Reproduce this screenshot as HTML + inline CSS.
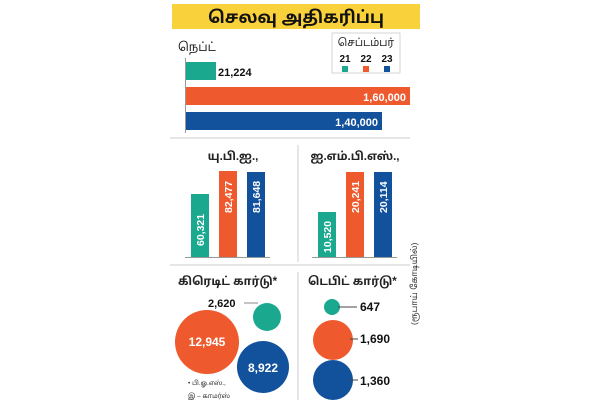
<!DOCTYPE html>
<html><head><meta charset="utf-8"><style>
html,body{margin:0;padding:0;background:#fff;}
svg{display:block;font-family:"Liberation Sans","Noto Sans Tamil","DejaVu Sans",sans-serif;}
</style></head><body>
<svg width="600" height="413" viewBox="0 0 600 413" xmlns="http://www.w3.org/2000/svg">
<rect x="172" y="4" width="248" height="25" fill="#f9d13b"/>
<text x="296" y="23" font-size="17" font-weight="bold" text-anchor="middle" fill="#111">செலவு அதிகரிப்பு</text>
<text x="178" y="51" font-size="12" fill="#222">நெப்ட்</text>
<rect x="332" y="33" width="68" height="40" fill="#fff" stroke="#ccc" stroke-width="0.8"/>
<text x="366" y="46" font-size="10.5" text-anchor="middle" fill="#222">செப்டம்பர்</text>
<g font-size="10" font-weight="bold" fill="#111" text-anchor="middle">
<text x="345" y="62">21</text><text x="366" y="62">22</text><text x="387" y="62">23</text></g>
<rect x="342" y="66" width="6" height="6" fill="#1aa88f"/>
<rect x="363" y="66" width="6" height="6" fill="#ee5a2e"/>
<rect x="384" y="66" width="6" height="6" fill="#12519c"/>
<line x1="185.5" y1="58" x2="185.5" y2="133" stroke="#999" stroke-width="1"/>
<rect x="186" y="62" width="30" height="18" fill="#1aa88f"/>
<text x="218" y="76" font-size="11" font-weight="bold" fill="#111">21,224</text>
<rect x="186" y="87" width="224" height="18" fill="#ee5a2e"/>
<text x="406" y="101" font-size="11" font-weight="bold" fill="#fff" text-anchor="end">1,60,000</text>
<rect x="186" y="112" width="196" height="18" fill="#12519c"/>
<text x="378" y="126" font-size="11" font-weight="bold" fill="#fff" text-anchor="end">1,40,000</text>
<line x1="170" y1="138" x2="410" y2="138" stroke="#ddd" stroke-width="1.5"/>
<line x1="298" y1="145" x2="298" y2="262" stroke="#ccc"/>
<text x="233" y="160" font-size="11.5" font-weight="bold" text-anchor="middle" fill="#222">யு.பி.ஐ.,</text>
<text x="355" y="160" font-size="11.5" font-weight="bold" text-anchor="middle" fill="#222">ஐ.எம்.பி.எஸ்.,</text>
<rect x="191" y="194" width="18" height="63" fill="#1aa88f"/>
<rect x="219" y="171" width="18" height="86" fill="#ee5a2e"/>
<rect x="247" y="172" width="18" height="85" fill="#12519c"/>
<rect x="318" y="212" width="18" height="45" fill="#1aa88f"/>
<rect x="346" y="172" width="18" height="85" fill="#ee5a2e"/>
<rect x="374" y="172" width="18" height="85" fill="#12519c"/>
<line x1="185" y1="257.5" x2="270" y2="257.5" stroke="#999"/>
<line x1="312" y1="257.5" x2="397" y2="257.5" stroke="#999"/>
<g font-size="10.5" font-weight="bold" fill="#fff">
<text transform="translate(204,246) rotate(-90)">60,321</text>
<text transform="translate(232,213) rotate(-90)">82,477</text>
<text transform="translate(260,213) rotate(-90)">81,648</text>
<text transform="translate(331,253) rotate(-90)">10,520</text>
<text transform="translate(359,213) rotate(-90)">20,241</text>
<text transform="translate(387,213) rotate(-90)">20,114</text>
</g>
<line x1="170" y1="265" x2="410" y2="265" stroke="#ddd" stroke-width="1.5"/>
<line x1="298" y1="272" x2="298" y2="400" stroke="#ccc"/>
<text x="178" y="285" font-size="11.5" font-weight="bold" fill="#222">கிரெடிட் கார்டு*</text>
<text x="308" y="285" font-size="11.5" font-weight="bold" fill="#222">டெபிட் கார்டு*</text>
<text transform="translate(417,325) rotate(-90)" font-size="8.5" fill="#333">(ரூபாய் கோடியில்)</text>
<line x1="244" y1="303" x2="258" y2="303" stroke="#888"/>
<text x="208" y="307" font-size="11" font-weight="bold" fill="#111">2,620</text>
<circle cx="267" cy="317" r="14" fill="#1aa88f"/>
<circle cx="207" cy="342" r="32" fill="#ee5a2e"/>
<text x="207" y="346" font-size="12" font-weight="bold" fill="#fff" text-anchor="middle">12,945</text>
<circle cx="263" cy="367" r="26" fill="#12519c"/>
<text x="263" y="372" font-size="12" font-weight="bold" fill="#fff" text-anchor="middle">8,922</text>
<text x="188" y="385" font-size="6.5" fill="#333">• பி.ஓ.எஸ்.,</text>
<text x="188" y="398" font-size="6.5" fill="#333">இ – காமர்ஸ்</text>
<circle cx="332" cy="307" r="8" fill="#1aa88f"/>
<line x1="338" y1="307" x2="357" y2="307" stroke="#444"/>
<text x="360" y="311" font-size="12" font-weight="bold" fill="#111">647</text>
<circle cx="333" cy="340" r="20" fill="#ee5a2e"/>
<line x1="350" y1="339" x2="358" y2="339" stroke="#444"/>
<text x="360" y="343" font-size="12" font-weight="bold" fill="#111">1,690</text>
<circle cx="333" cy="380" r="20" fill="#12519c"/>
<line x1="350" y1="380" x2="358" y2="380" stroke="#444"/>
<text x="360" y="385" font-size="12" font-weight="bold" fill="#111">1,360</text>
</svg>
</body></html>
